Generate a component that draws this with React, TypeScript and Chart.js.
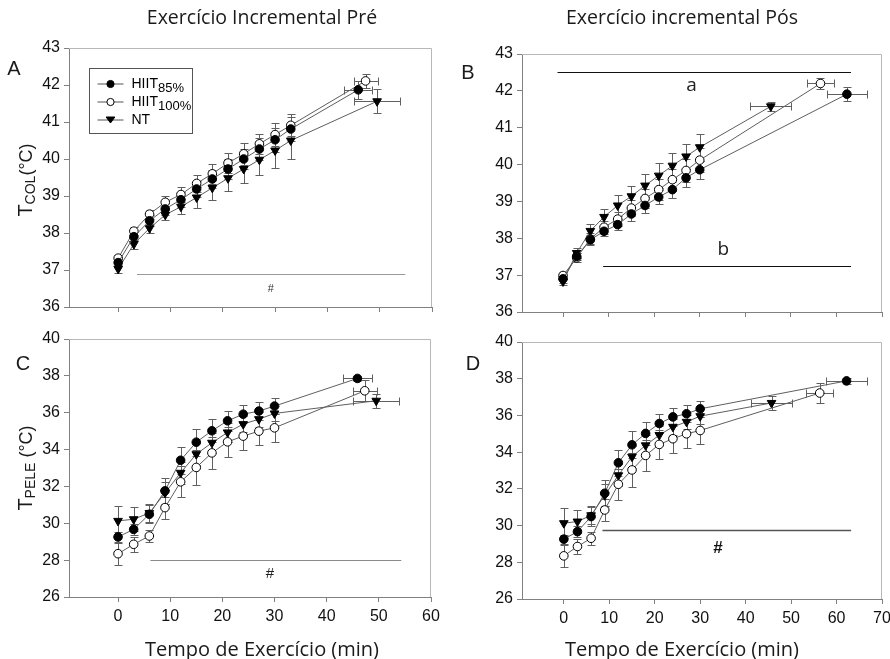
import React, { useEffect, useRef } from "react";
import { Chart, registerables } from "chart.js";
Chart.register(...registerables);

// ---------- Panel A: core temperature, incremental exercise PRE ----------
const coreTimePre = [0, 3, 6, 9, 12, 15, 18, 21, 24, 27, 30, 33];
const corePreHIIT85 = [37.2, 37.9, 38.33, 38.65, 38.9, 39.19, 39.46, 39.73, 40.0, 40.27, 40.52, 40.81];
const corePreHIIT100 = [37.32, 38.05, 38.51, 38.83, 39.04, 39.34, 39.6, 39.89, 40.14, 40.41, 40.66, 40.91];
const corePreNT = [37.03, 37.7, 38.13, 38.49, 38.71, 38.96, 39.22, 39.48, 39.73, 39.98, 40.23, 40.5];
const corePreHIIT85Err = [0.1, 0.12, 0.15, 0.17, 0.2, 0.22, 0.25, 0.27, 0.28, 0.3, 0.32, 0.33];
const corePreHIIT100Err = [0.08, 0.1, 0.12, 0.16, 0.2, 0.24, 0.27, 0.27, 0.29, 0.27, 0.3, 0.3];
const corePreNTErr = [0.1, 0.12, 0.12, 0.15, 0.2, 0.28, 0.32, 0.35, 0.38, 0.42, 0.47, 0.5];
// end-of-test points (HIIT85, HIIT100, NT)
const corePreEndTime = [45.9, 47.3, 49.5];
const corePreEndTimeErr = [2.7, 2.3, 4.4];
const corePreEnd = [41.87, 42.11, 41.56];
const corePreEndErr = [0.25, 0.18, 0.33];

// ---------- Panel B: core temperature, incremental exercise POST ----------
const coreTimePost = [0, 3, 6, 9, 12, 15, 18, 21, 24, 27, 30];
const corePostHIIT85 = [36.9, 37.51, 37.96, 38.19, 38.37, 38.66, 38.89, 39.12, 39.32, 39.64, 39.86];
const corePostHIIT100 = [36.99, 37.47, 37.98, 38.3, 38.52, 38.82, 39.08, 39.32, 39.59, 39.84, 40.12];
const corePostNT = [36.83, 37.6, 38.2, 38.58, 38.89, 39.14, 39.43, 39.7, 39.97, 40.22, 40.47];
const corePostHIIT85Err = [0.1, 0.1, 0.12, 0.14, 0.15, 0.2, 0.2, 0.2, 0.22, 0.25, 0.25];
const corePostHIIT100Err = [0.1, 0.12, 0.15, 0.18, 0.2, 0.22, 0.25, 0.28, 0.3, 0.32, 0.33];
const corePostNTErr = [0.1, 0.14, 0.2, 0.22, 0.28, 0.29, 0.32, 0.33, 0.34, 0.35, 0.36];
const corePostEndTime = [62.3, 56.5, 45.6];
const corePostEndTimeErr = [4.4, 3.0, 4.5];
const corePostEnd = [41.91, 42.2, 41.58];
const corePostEndErr = [0.19, 0.15, 0.12];

// ---------- Panels C & D: skin temperature ----------
const skinTime = [0, 3, 6, 9, 12, 15, 18, 21, 24, 27, 30];
const skinHIIT85 = [29.26, 29.67, 30.49, 31.76, 33.42, 34.4, 35.02, 35.56, 35.92, 36.09, 36.36];
const skinHIIT100 = [28.35, 28.86, 29.31, 30.85, 32.25, 33.03, 33.82, 34.42, 34.73, 35.0, 35.18];
const skinNT = [30.13, 30.22, 30.56, 31.65, 32.74, 33.75, 34.37, 34.93, 35.38, 35.65, 35.96];
const skinHIIT85Err = [0.25, 0.3, 0.5, 0.7, 0.72, 0.73, 0.62, 0.54, 0.5, 0.47, 0.44];
const skinHIIT100Err = [0.6, 0.4, 0.35, 0.6, 0.85, 0.93, 0.85, 0.8, 0.76, 0.76, 0.75];
const skinNTErr = [0.8, 0.65, 0.5, 0.6, 0.6, 0.6, 0.55, 0.5, 0.45, 0.4, 0.4];
const skinPreEndTime = [45.9, 47.3, 49.5];
const skinPreEndTimeErr = [2.7, 2.3, 4.4];
const skinPreEnd = [37.86, 37.19, 36.65];
const skinPreEndErr = [0.15, 0.57, 0.37];
const skinPostEndTime = [62.2, 56.3, 45.7];
const skinPostEndTimeErr = [4.5, 3.0, 4.6];
const skinPostEnd = [37.88, 37.22, 36.68];
const skinPostEndErr = [0.15, 0.57, 0.37];

// ---------- axes ----------
const xTicks60 = [0, 10, 20, 30, 40, 50, 60];
const xTicks70 = [0, 10, 20, 30, 40, 50, 60, 70];
const yTicksCore = [36, 37, 38, 39, 40, 41, 42, 43];
const yTicksSkin = [26, 28, 30, 32, 34, 36, 38, 40];

const legendMain = ["HIIT", "HIIT", "NT"];
const legendSub = ["85%", "100%", ""];

// ---------- significance marks ----------
const sigA = { lines: [{ x0: 3.6, x1: 54.9, y: 36.9 }], labels: [{ x: 29.2, y: 36.5, text: "#" }] };
const sigB = {
  lines: [{ x0: -1.2, x1: 63.2, y: 42.52 }, { x0: 8.8, x1: 63.2, y: 37.26 }],
  labels: [{ x: 28.2, y: 42.15, text: "a" }, { x: 35.2, y: 37.7, text: "b" }],
};
const sigC = { lines: [{ x0: 6.2, x1: 54.3, y: 27.99 }], labels: [{ x: 29.1, y: 27.26, text: "#" }] };
const sigD = { lines: [{ x0: 8.5, x1: 63.2, y: 29.78 }], labels: [{ x: 33.9, y: 28.78, text: "#" }] };

const ARIAL = '"Liberation Sans", Arial, sans-serif';
const SANS = '"Open Sans", "Noto Sans", sans-serif';

function pts(t: number[], v: number[], e: number[], endT: number, endTE: number, endV: number, endE: number) {
  const out: any[] = t.map((x, i) => ({ x, y: v[i], ey: e[i], ex: 0 }));
  out.push({ x: endT, y: endV, ey: endE, ex: endTE });
  return out;
}

function drawMarker(ctx: CanvasRenderingContext2D, kind: string, x: number, y: number, r: number) {
  ctx.save();
  ctx.lineWidth = 1;
  ctx.strokeStyle = "#000";
  ctx.beginPath();
  if (kind === "tri") {
    const h = r * 1.5;
    ctx.moveTo(x - r * 1.1, y - h / 2);
    ctx.lineTo(x + r * 1.1, y - h / 2);
    ctx.lineTo(x, y + h / 2);
    ctx.closePath();
    ctx.fillStyle = "#000";
  } else {
    ctx.arc(x, y, r, 0, Math.PI * 2);
    ctx.fillStyle = kind === "open" ? "#fff" : "#000";
  }
  ctx.fill();
  ctx.stroke();
  ctx.restore();
}

const errorBarPlugin = {
  id: "errorBars",
  beforeDatasetsDraw(chart: any) {
    const { ctx } = chart;
    const xs = chart.scales.x, ys = chart.scales.y;
    ctx.save();
    ctx.strokeStyle = "#606060";
    ctx.lineWidth = 1;
    const cap = 4;
    chart.data.datasets.forEach((ds: any) => {
      ds.data.forEach((p: any) => {
        const px = Math.round(xs.getPixelForValue(p.x)) + 0.5;
        const py = Math.round(ys.getPixelForValue(p.y)) + 0.5;
        ctx.beginPath();
        if (p.ey) {
          const t = Math.round(ys.getPixelForValue(p.y + p.ey)) + 0.5;
          const b = Math.round(ys.getPixelForValue(p.y - p.ey)) + 0.5;
          ctx.moveTo(px, t); ctx.lineTo(px, b);
          ctx.moveTo(px - cap, t); ctx.lineTo(px + cap, t);
          ctx.moveTo(px - cap, b); ctx.lineTo(px + cap, b);
        }
        if (p.ex) {
          const l = Math.round(xs.getPixelForValue(p.x - p.ex)) + 0.5;
          const r = Math.round(xs.getPixelForValue(p.x + p.ex)) + 0.5;
          ctx.moveTo(l, py); ctx.lineTo(r, py);
          ctx.moveTo(l, py - cap); ctx.lineTo(l, py + cap);
          ctx.moveTo(r, py - cap); ctx.lineTo(r, py + cap);
        }
        ctx.stroke();
      });
    });
    ctx.restore();
  },
};

const framePlugin = {
  id: "frame",
  beforeDatasetsDraw(chart: any) {
    const { ctx, chartArea: ca } = chart;
    ctx.save();
    ctx.strokeStyle = "#b8b8b8";
    ctx.lineWidth = 1;
    ctx.beginPath();
    const top = Math.round(ca.top) + 0.5, right = Math.round(ca.right) - 0.5;
    ctx.moveTo(ca.left, top); ctx.lineTo(right, top); ctx.lineTo(right, ca.bottom);
    ctx.stroke();
    ctx.restore();
  },
};

const sigPlugin = {
  id: "sig",
  afterDatasetsDraw(chart: any, _a: any, opts: any) {
    if (!opts || !opts.lines) return;
    const { ctx } = chart;
    const xs = chart.scales.x, ys = chart.scales.y;
    ctx.save();
    ctx.strokeStyle = opts.color;
    ctx.lineWidth = opts.width;
    opts.lines.forEach((l: any) => {
      const y = Math.round(ys.getPixelForValue(l.y)) + 0.5;
      ctx.beginPath();
      ctx.moveTo(xs.getPixelForValue(l.x0), y);
      ctx.lineTo(xs.getPixelForValue(l.x1), y);
      ctx.stroke();
    });
    ctx.fillStyle = opts.textColor;
    ctx.font = opts.font;
    ctx.textAlign = "center";
    ctx.textBaseline = "middle";
    opts.labels.forEach((t: any) => {
      ctx.fillText(t.text, xs.getPixelForValue(t.x), ys.getPixelForValue(t.y));
    });
    ctx.restore();
  },
};

const legendPlugin = {
  id: "customLegend",
  afterDraw(chart: any, _a: any, opts: any) {
    if (!opts || !opts.show) return;
    const { ctx, chartArea: ca } = chart;
    const bx = Math.round(ca.left + 20) + 0.5, by = Math.round(ca.top + 20) + 0.5;
    ctx.save();
    ctx.strokeStyle = "#555";
    ctx.lineWidth = 1;
    ctx.strokeRect(bx, by, 103, 65);
    const kinds = ["filled", "open", "tri"];
    for (let i = 0; i < 3; i++) {
      const y = by + 15.5 + i * 18;
      const x0 = bx + 8, x1 = bx + 34;
      ctx.strokeStyle = "#555";
      ctx.beginPath();
      ctx.moveTo(x0, y); ctx.lineTo(x1, y);
      ctx.stroke();
      drawMarker(ctx, kinds[i], (x0 + x1) / 2, y, kinds[i] === "tri" ? 4 : 3.6);
      ctx.fillStyle = "#000";
      ctx.textBaseline = "middle";
      ctx.textAlign = "left";
      ctx.font = `14px ${ARIAL}`;
      ctx.fillText(legendMain[i], bx + 42, y);
      if (legendSub[i]) {
        const w = ctx.measureText(legendMain[i]).width;
        ctx.font = `13px ${ARIAL}`;
        ctx.fillText(legendSub[i], bx + 42 + w, y + 4);
      }
    }
    ctx.restore();
  },
};

function series(data85: any[], data100: any[], dataNT: any[]) {
  const common = { borderColor: "#5e5e5e", borderWidth: 1, tension: 0, pointBorderColor: "#000", pointBorderWidth: 1 };
  return [
    { label: "HIIT85%", data: data85, ...common, pointStyle: "circle", pointRadius: 4.3, pointBackgroundColor: "#000" },
    { label: "HIIT100%", data: data100, ...common, pointStyle: "circle", pointRadius: 4.3, pointBackgroundColor: "#fff" },
    { label: "NT", data: dataNT, ...common, pointStyle: "triangle", pointRotation: 180, pointRadius: 5, pointBackgroundColor: "#000" },
  ];
}

type Panel = {
  left: number; top: number; w: number; h: number;
  padTop: number; padRight: number; yW: number; xH: number;
  xMin: number; xMax: number; xTicks: number[]; showX: boolean;
  yMin: number; yMax: number; yTicks: number[];
  datasets: any[]; sig: any; legend: boolean;
};

function makeConfig(p: Panel): any {
  const tickFont = { family: ARIAL, size: 16 };
  return {
    type: "line",
    data: { datasets: p.datasets },
    plugins: [framePlugin, errorBarPlugin, sigPlugin, legendPlugin],
    options: {
      responsive: false,
      animation: false,
      events: [],
      layout: { padding: { top: p.padTop, right: p.padRight, left: 0, bottom: 0 } },
      plugins: {
        legend: { display: false },
        tooltip: { enabled: false },
        title: { display: false },
        sig: p.sig,
        customLegend: { show: p.legend },
      },
      scales: {
        x: {
          type: "linear",
          min: p.xMin,
          max: p.xMax,
          afterBuildTicks: (s: any) => { s.ticks = p.xTicks.map((v) => ({ value: v })); },
          afterFit: (s: any) => { s.height = p.xH; s.paddingLeft = 0; s.paddingRight = 0; },
          grid: { display: true, drawOnChartArea: false, drawTicks: true, tickLength: 5, color: "#808080" },
          border: { display: true, color: "#808080", width: 1 },
          ticks: { display: p.showX, font: tickFont, color: "#111", padding: 5, maxRotation: 0, autoSkip: false },
        },
        y: {
          type: "linear",
          min: p.yMin,
          max: p.yMax,
          afterBuildTicks: (s: any) => { s.ticks = p.yTicks.map((v) => ({ value: v })); },
          afterFit: (s: any) => { s.width = p.yW; s.paddingTop = 0; s.paddingBottom = 0; },
          grid: { display: true, drawOnChartArea: false, drawTicks: true, tickLength: 5, color: "#808080" },
          border: { display: true, color: "#808080", width: 1 },
          ticks: { font: tickFont, color: "#111", padding: 4, autoSkip: false },
        },
      },
    },
  };
}

function ChartPanel({ p }: { p: Panel }) {
  const ref = useRef<HTMLCanvasElement | null>(null);
  useEffect(() => {
    if (!ref.current) return;
    const chart = new Chart(ref.current, makeConfig(p));
    return () => chart.destroy();
  }, []);
  return (
    <canvas
      ref={ref}
      width={p.w}
      height={p.h}
      style={{ position: "absolute", left: p.left, top: p.top, width: p.w, height: p.h }}
    />
  );
}

const sigGray = { color: "#9a9a9a", width: 1, textColor: "#333", font: `11px ${ARIAL}` };

const panels: Panel[] = [
  {
    left: 0, top: 0, w: 445, h: 320, padTop: 48, padRight: 13, yW: 69, xH: 13,
    xMin: -9.4, xMax: 60, xTicks: xTicks60, showX: false,
    yMin: 36, yMax: 43, yTicks: yTicksCore, legend: true,
    datasets: series(
      pts(coreTimePre, corePreHIIT85, corePreHIIT85Err, corePreEndTime[0], corePreEndTimeErr[0], corePreEnd[0], corePreEndErr[0]),
      pts(coreTimePre, corePreHIIT100, corePreHIIT100Err, corePreEndTime[1], corePreEndTimeErr[1], corePreEnd[1], corePreEndErr[1]),
      pts(coreTimePre, corePreNT, corePreNTErr, corePreEndTime[2], corePreEndTimeErr[2], corePreEnd[2], corePreEndErr[2])
    ),
    sig: { ...sigA, ...sigGray },
  },
  {
    left: 445, top: 0, w: 445, h: 320, padTop: 54, padRight: 8, yW: 77, xH: 8,
    xMin: -9, xMax: 70, xTicks: xTicks70, showX: false,
    yMin: 36, yMax: 43, yTicks: yTicksCore, legend: false,
    datasets: series(
      pts(coreTimePost, corePostHIIT85, corePostHIIT85Err, corePostEndTime[0], corePostEndTimeErr[0], corePostEnd[0], corePostEndErr[0]),
      pts(coreTimePost, corePostHIIT100, corePostHIIT100Err, corePostEndTime[1], corePostEndTimeErr[1], corePostEnd[1], corePostEndErr[1]),
      pts(coreTimePost, corePostNT, corePostNTErr, corePostEndTime[2], corePostEndTimeErr[2], corePostEnd[2], corePostEndErr[2])
    ),
    sig: { ...sigB, color: "#111", width: 1, textColor: "#222", font: `19px ${SANS}` },
  },
  {
    left: 0, top: 320, w: 445, h: 339, padTop: 19, padRight: 14, yW: 69, xH: 62,
    xMin: -9.4, xMax: 60, xTicks: xTicks60, showX: true,
    yMin: 26, yMax: 40, yTicks: yTicksSkin, legend: false,
    datasets: series(
      pts(skinTime, skinHIIT85, skinHIIT85Err, skinPreEndTime[0], skinPreEndTimeErr[0], skinPreEnd[0], skinPreEndErr[0]),
      pts(skinTime, skinHIIT100, skinHIIT100Err, skinPreEndTime[1], skinPreEndTimeErr[1], skinPreEnd[1], skinPreEndErr[1]),
      pts(skinTime, skinNT, skinNTErr, skinPreEndTime[2], skinPreEndTimeErr[2], skinPreEnd[2], skinPreEndErr[2])
    ),
    sig: { ...sigC, color: "#8a8a8a", width: 1, textColor: "#222", font: `15px ${ARIAL}` },
  },
  {
    left: 445, top: 320, w: 445, h: 339, padTop: 22, padRight: 8, yW: 77, xH: 60,
    xMin: -9.2, xMax: 70, xTicks: xTicks70, showX: true,
    yMin: 26, yMax: 40, yTicks: yTicksSkin, legend: false,
    datasets: series(
      pts(skinTime, skinHIIT85, skinHIIT85Err, skinPostEndTime[0], skinPostEndTimeErr[0], skinPostEnd[0], skinPostEndErr[0]),
      pts(skinTime, skinHIIT100, skinHIIT100Err, skinPostEndTime[1], skinPostEndTimeErr[1], skinPostEnd[1], skinPostEndErr[1]),
      pts(skinTime, skinNT, skinNTErr, skinPostEndTime[2], skinPostEndTimeErr[2], skinPostEnd[2], skinPostEndErr[2])
    ),
    sig: { ...sigD, color: "#555", width: 1.5, textColor: "#111", font: `bold 17px ${ARIAL}` },
  },
];

function Label({ x, y, size, family, children, rotate }: any) {
  return (
    <div
      style={{
        position: "absolute", left: x, top: y,
        transform: `translate(-50%, -50%)${rotate ? " rotate(-90deg)" : ""}`,
        fontFamily: family, fontSize: size, lineHeight: 1, whiteSpace: "nowrap", color: "#1a1a1a",
      }}
    >
      {children}
    </div>
  );
}

export default function App() {
  return (
    <div style={{ position: "fixed", left: 0, top: 0, width: 890, height: 659, background: "#fff", overflow: "hidden" }}>
      {panels.map((p, i) => <ChartPanel key={i} p={p} />)}
      <Label x={262} y={17} size={19.5} family={SANS}>Exercício Incremental Pré</Label>
      <Label x={682} y={17} size={19.5} family={SANS}>Exercício incremental Pós</Label>
      <Label x={262} y={649} size={20} family={SANS}>Tempo de Exercício (min)</Label>
      <Label x={682} y={649} size={20} family={SANS}>Tempo de Exercício (min)</Label>
      <Label x={14} y={68} size={20} family={ARIAL}>A</Label>
      <Label x={468} y={72} size={20} family={ARIAL}>B</Label>
      <Label x={23} y={363} size={20} family={ARIAL}>C</Label>
      <Label x={473} y={363} size={20} family={ARIAL}>D</Label>
      <Label x={25} y={180} size={18} family={ARIAL} rotate>
        <span style={{ fontSize: 20 }}>T</span>
        <span style={{ fontSize: 14, position: "relative", top: 3 }}>COL</span>
        <span>(°C)</span>
      </Label>
      <Label x={25} y={468} size={18} family={ARIAL} rotate>
        <span style={{ fontSize: 20 }}>T</span>
        <span style={{ fontSize: 14, position: "relative", top: 3 }}>PELE</span>
        <span> (°C)</span>
      </Label>
    </div>
  );
}
